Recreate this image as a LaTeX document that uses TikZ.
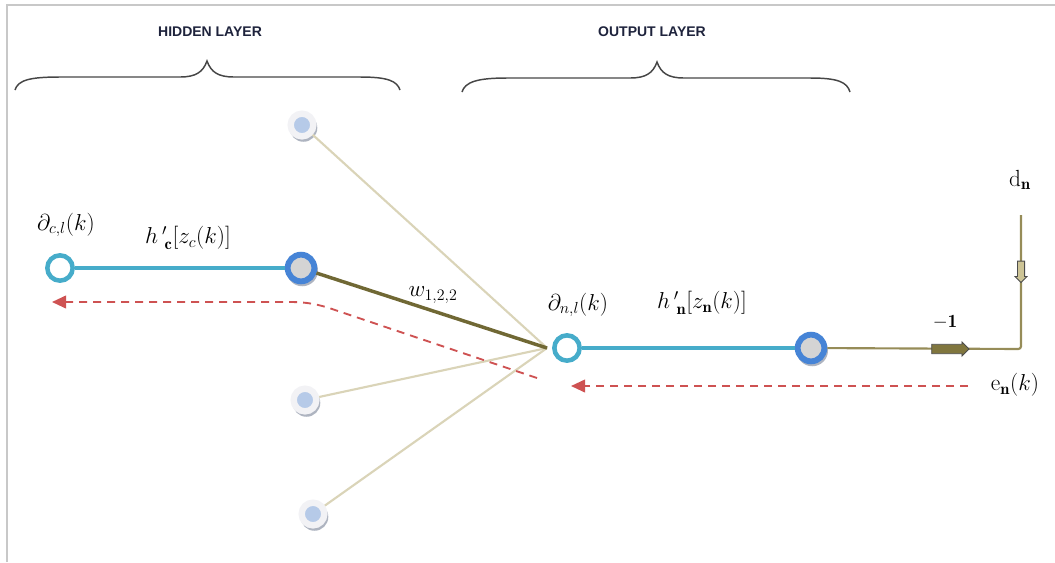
\documentclass[tikz,border=0pt]{standalone}
\usepackage{fontspec}
\newfontfamily\headfont{Liberation Sans}
\usetikzlibrary{shapes.arrows,shadows,arrows.meta}
\definecolor{framec}{RGB}{200,200,200}
\definecolor{bracec}{RGB}{70,70,70}
\definecolor{headc}{RGB}{30,35,60}
\definecolor{tealc}{RGB}{70,172,202}
\definecolor{bluec}{RGB}{70,132,214}
\definecolor{greyc}{RGB}{212,212,212}
\definecolor{lightblue}{RGB}{182,202,232}
\definecolor{ringc}{RGB}{242,242,245}
\definecolor{shadc}{RGB}{120,130,150}
\definecolor{olivec}{RGB}{112,104,52}
\definecolor{tanc}{RGB}{218,212,184}
\definecolor{outc}{RGB}{150,140,88}
\definecolor{arrowc}{RGB}{128,118,62}
\definecolor{arrowl}{RGB}{205,196,150}
\definecolor{redc}{RGB}{206,82,82}
\begin{document}
\begin{tikzpicture}[x=0.75pt,y=-0.75pt,
  heading/.style={font=\headfont\bfseries\fontsize{10.5}{12}\selectfont, text=headc, inner sep=0},
  mlabel/.style={font=\fontsize{17.5}{20}\selectfont, inner sep=0},
  openn/.style={circle, draw=tealc, line width=3.4pt, fill=white, minimum size=19pt, inner sep=0},
  mainn/.style={circle, draw=bluec, line width=4.4pt, fill=greyc, minimum size=20pt, inner sep=0,
    drop shadow={shadow xshift=0.8pt, shadow yshift=-1.6pt, shadow scale=1.18, fill=shadc, opacity=0.6}},
  lightn/.style={circle, draw=ringc, line width=4.8pt, fill=lightblue, minimum size=17pt, inner sep=0,
    drop shadow={shadow xshift=0.9pt, shadow yshift=-1.8pt, shadow scale=1.22, fill=shadc, opacity=0.6}},
  tealline/.style={draw=tealc, line width=3pt},
  tanline/.style={draw=tanc, line width=1.6pt},
  oliveline/.style={draw=olivec, line width=2.6pt},
  outline/.style={draw=outc, line width=1.6pt},
  reddash/.style={draw=redc, line width=1.4pt, dash pattern=on 6pt off 4.5pt,
    -{Triangle[length=10.5pt,width=9.5pt]}},
  bracep/.style={draw=bracec, line width=1.1pt},
  blockarrow/.style={single arrow, draw=black!70, line width=0.6pt, inner xsep=0pt,
    single arrow head extend=1.8pt, single arrow head indent=0pt},
]
\useasboundingbox (0,0) rectangle (1055,562);
% frame
\draw[framec, line width=1.6pt] (7,562) -- (7,5) -- (1055,5);
% headings
\node[heading] (hl) at (210,32) {HIDDEN LAYER};
\node[heading] (ol) at (652,32) {OUTPUT LAYER};
% braces
\draw[bracep] (15,90) .. controls (18,80) and (30,77) .. (60,77) -- (180,77)
  .. controls (196,77) and (203,72) .. (207,61) .. controls (211,72) and (218,77) .. (234,77)
  -- (360,77) .. controls (388,77) and (397,81) .. (400,90);
\draw[bracep] (462,92) .. controls (465,82) and (477,78) .. (507,78) -- (630,78)
  .. controls (646,78) and (653,73) .. (657,62) .. controls (661,73) and (668,78) .. (684,78)
  -- (810,78) .. controls (838,78) and (847,82) .. (850,92);
% convergence point
\coordinate (cv) at (547,348);
% hidden neurons
\node[lightn] (h1) at (302,125) {};
\node[lightn] (h3) at (305,400) {};
\node[lightn] (h4) at (313,514) {};
\node[mainn] (hm) at (301,268) {};
\node[openn] (lo) at (60,268) {};
% output neurons
\node[openn] (oo) at (567,348) {};
\node[mainn] (om) at (811,348) {};
% connectors
\draw[tanline] (h1) -- (cv);
\draw[tanline] (h3) -- (cv);
\draw[tanline] (h4) -- (cv);
\draw[oliveline] (hm) -- (cv);
\draw[tealline] (lo) -- (hm);
\draw[tealline] (oo) -- (om);
% output branch
\coordinate (corner) at (1021,349);
\coordinate (dtop) at (1021,215);
\draw[outline, rounded corners=2pt] (om) -- (corner) -- (dtop);
\node[blockarrow, fill=arrowc, inner ysep=3.2pt, minimum height=28pt] (ah) at (948,349) {};
\node[blockarrow, fill=arrowl, inner ysep=2.4pt, minimum height=16pt, rotate=-90] (av) at (1021,270) {};
% red dashed error paths
\coordinate (r1s) at (537,378);
\coordinate (r1e) at (52,302);
\draw[reddash] (r1s) -- (335,310) .. controls (318,304) and (306,302) .. (290,302) -- (r1e);
\coordinate (r2s) at (968,386);
\coordinate (r2e) at (571,386);
\draw[reddash] (r2s) -- (r2e);
% labels
\node[mlabel] (l1) at (66,225) {$\partial_{c,l}(k)$};
\node[mlabel] (l2) at (188,238) {$h\,'_{\,\mathbf{c}}[z_c(k)]$};
\node[mlabel] (l3) at (433,295) {$w_{1,2,2}$};
\node[mlabel] (l4) at (578,305) {$\partial_{n,l}(k)$};
\node[mlabel] (l5) at (702,303) {$h\,'_{\,\mathbf{n}}[z_{\mathbf{n}}(k)]$};
\node[font=\fontsize{14}{16}\selectfont, inner sep=0] (l6) at (945,322) {$\mathbf{-1}$};
\node[mlabel] (l7) at (1020,180) {$\mathrm{d}_{\mathbf{n}}$};
\node[mlabel] (l8) at (1015,385) {$\mathrm{e}_{\mathbf{n}}(k)$};
\end{tikzpicture}
\end{document}
